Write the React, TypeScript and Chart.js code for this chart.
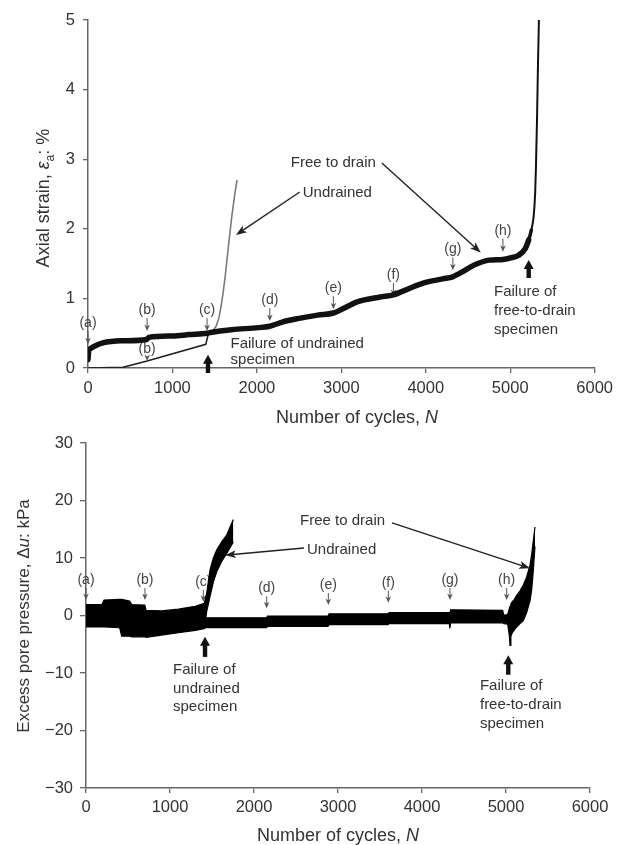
import React, { useEffect, useRef } from 'react';
import { Chart, registerables } from 'chart.js';

Chart.register(...registerables);

const FONT_FAMILY = '"Liberation Sans", Arial, Helvetica, sans-serif';
const TEXT = '#333333';
const AXIS = '#666666';
const MARK = '#555555';

// ---------- shared ----------
const cycleTicks = [0, 1000, 2000, 3000, 4000, 5000, 6000];
const stageLabels = ['(a)', '(b)', '(c)', '(d)', '(e)', '(f)', '(g)', '(h)'];

// ---------- axial strain (%) ----------
const strainTicks = [0, 1, 2, 3, 4, 5];

const drainedStrainCycles = [
  0, 8, 30, 70, 176, 400, 695, 720, 1000, 1200,
  1410, 1450, 1700, 2016, 2152, 2300, 2484, 2719, 2906, 3000,
  3188, 3461, 3617, 3700, 3969, 4200, 4320, 4400, 4594, 4750,
  4914, 5000, 5101, 5180, 5219, 5250, 5277, 5295, 5305, 5318,
  5328, 5340,
];
const drainedStrain = [
  0.12, 0.24, 0.28, 0.31, 0.36, 0.39, 0.41, 0.44, 0.46, 0.48,
  0.50, 0.51, 0.55, 0.58, 0.60, 0.66, 0.71, 0.76, 0.79, 0.84,
  0.95, 1.02, 1.05, 1.09, 1.22, 1.28, 1.31, 1.36, 1.49, 1.55,
  1.56, 1.58, 1.62, 1.72, 1.84, 1.98, 2.17, 2.5, 2.89, 3.6,
  4.3, 5.0,
];

const undrainedStrainCycles = [0, 414, 700, 1395, 1425, 1460, 1490, 1520, 1550, 1575, 1600, 1625, 1650, 1675, 1703, 1735, 1765];
const undrainedStrain = [0, 0.01, 0.10, 0.34, 0.49, 0.53, 0.55, 0.61, 0.72, 0.88, 1.08, 1.32, 1.6, 1.88, 2.18, 2.47, 2.70];

const strainStageCycles = [0, 700, 1410, 2153, 2906, 3617, 4321, 4914];
const strainStageTips = [0.34, 0.53, 0.53, 0.675, 0.843, 1.034, 1.404, 1.671];
const undrainedStageCycle = 700;
const undrainedStageTip = 0.1;

// ---------- excess pore pressure (kPa), cyclic envelopes ----------
const poreTicks = [-30, -20, -10, 0, 10, 20, 30];

const undrainedPoreCycles = [0, 190, 215, 400, 425, 520, 545, 700, 715, 900, 1100, 1300, 1405, 1412, 1437, 1476, 1516, 1556, 1615, 1675, 1754];
const undrainedPoreUpper = [1.9, 1.9, 2.7, 2.8, 2.8, 2.5, 1.9, 1.8, 0.9, 0.8, 1.1, 1.6, 2.1, 2.4, 3.9, 7.9, 10.0, 11.4, 12.8, 14.0, 16.7];
const undrainedPoreLower = [-2.0, -2.0, -2.0, -2.1, -3.6, -3.6, -3.7, -3.7, -3.8, -3.4, -3.0, -2.6, -2.3, -2.0, 0.7, 3.3, 5.8, 7.6, 9.4, 10.8, 12.8];

const drainedPoreCycles = [
  1412, 2150, 2160, 2880, 2895, 3595, 3610, 4325, 4332, 4340,
  4360, 4960, 4975, 5020, 5040, 5048, 5058, 5075, 5100, 5127,
  5167, 5206, 5246, 5286, 5306, 5325, 5345,
];
const drainedPoreUpper = [
  -0.4, -0.4, -0.1, -0.1, 0.3, 0.3, 0.5, 0.5, 0.2, 1.0,
  1.0, 0.9, 0.0, 0.2, 1.2, 1.6, 2.0, 2.4, 2.8, 3.5,
  4.3, 5.3, 6.7, 8.8, 10.7, 13.0, 15.4,
];
const drainedPoreLower = [
  -2.1, -2.1, -1.9, -1.9, -1.6, -1.6, -1.4, -1.4, -2.2, -1.3,
  -1.3, -1.3, -1.4, -1.5, -3.5, -5.2, -3.6, -3.0, -2.5, -2.0,
  -1.4, -0.9, 0.5, 2.6, 4.5, 7.8, 12.0,
];

const poreStageCycles = [0, 702, 1397, 2151, 2885, 3599, 4333, 5008];
const poreStageTips = [2.7, 2.7, 2.4, 1.25, 1.83, 2.23, 2.7, 2.7];

// ---------- helpers ----------
type Part = { t: string; italic?: boolean; sub?: boolean };
type Note = { x: number; y: number; lines: string[]; lineHeight: number };
type Pointer = { from: [number, number]; to: [number, number] };
type Stage = { x: number; tip: number; label: string; gap: number };
type Failure = { x: number; tip: number; base: number };
type Title = { parts: Part[]; x: number; y: number; size: number; rotate?: boolean };

interface NoteSpec {
  stages: Stage[];
  notes: Note[];
  pointers: Pointer[];
  failures: Failure[];
  titles: Title[];
}

const fontOf = (size: number, italic = false) => `${italic ? 'italic ' : ''}${size}px ${FONT_FAMILY}`;

function drawRich(ctx: CanvasRenderingContext2D, parts: Part[], x: number, y: number, size: number) {
  let w = 0;
  const widths = parts.map((p) => {
    ctx.font = fontOf(p.sub ? size * 0.68 : size, p.italic);
    const m = ctx.measureText(p.t).width;
    w += m;
    return m;
  });
  let cx = x - w / 2;
  const base = y + size * 0.36;
  ctx.textAlign = 'left';
  ctx.textBaseline = 'alphabetic';
  parts.forEach((p, i) => {
    ctx.font = fontOf(p.sub ? size * 0.68 : size, p.italic);
    ctx.fillText(p.t, cx, base + (p.sub ? size * 0.24 : 0));
    cx += widths[i];
  });
}

function notesPlugin(spec: NoteSpec) {
  const pos = (chart: any, x: number, y: number): [number, number] => [
    chart.scales.x.getPixelForValue(x),
    chart.scales.y.getPixelForValue(y),
  ];
  return {
    id: 'notes',
    beforeDatasetsDraw(chart: any) {
      const ctx: CanvasRenderingContext2D = chart.ctx;
      ctx.save();
      for (const s of spec.stages) {
        const [x, yTip] = pos(chart, s.x, s.tip);
        const yLabel = yTip - s.gap;
        ctx.fillStyle = '#444';
        ctx.font = fontOf(14);
        ctx.textAlign = 'center';
        ctx.textBaseline = 'middle';
        ctx.fillText(s.label, x, yLabel);
        const top = yLabel + 8;
        ctx.strokeStyle = MARK;
        ctx.lineWidth = 1;
        if (yTip - 5 > top) {
          ctx.beginPath();
          ctx.moveTo(x, top);
          ctx.lineTo(x, yTip - 4);
          ctx.stroke();
        }
        ctx.fillStyle = MARK;
        ctx.beginPath();
        ctx.moveTo(x - 2.8, yTip - 6.5);
        ctx.lineTo(x, yTip - 4.5);
        ctx.lineTo(x + 2.8, yTip - 6.5);
        ctx.lineTo(x, yTip);
        ctx.closePath();
        ctx.fill();
      }
      ctx.restore();
    },
    afterDatasetsDraw(chart: any) {
      const ctx: CanvasRenderingContext2D = chart.ctx;
      ctx.save();
      // failure arrows
      for (const f of spec.failures) {
        const [x, yTip] = pos(chart, f.x, f.tip);
        const [, yBase] = pos(chart, f.x, f.base);
        ctx.fillStyle = '#111';
        ctx.fillRect(x - 2.2, yTip + 7, 4.4, yBase - yTip - 7);
        ctx.beginPath();
        ctx.moveTo(x, yTip);
        ctx.lineTo(x + 5, yTip + 9);
        ctx.lineTo(x - 5, yTip + 9);
        ctx.closePath();
        ctx.fill();
      }
      // pointers
      for (const p of spec.pointers) {
        const [x0, y0] = pos(chart, p.from[0], p.from[1]);
        const [x1, y1] = pos(chart, p.to[0], p.to[1]);
        const a = Math.atan2(y1 - y0, x1 - x0);
        const L = 11;
        const W = 4;
        ctx.strokeStyle = '#222';
        ctx.lineWidth = 1.4;
        ctx.beginPath();
        ctx.moveTo(x0, y0);
        ctx.lineTo(x1 - Math.cos(a) * L * 0.7, y1 - Math.sin(a) * L * 0.7);
        ctx.stroke();
        ctx.fillStyle = '#222';
        ctx.beginPath();
        ctx.moveTo(x1, y1);
        ctx.lineTo(x1 - Math.cos(a) * L - Math.sin(a) * W, y1 - Math.sin(a) * L + Math.cos(a) * W);
        ctx.lineTo(x1 - Math.cos(a) * L * 0.75, y1 - Math.sin(a) * L * 0.75);
        ctx.lineTo(x1 - Math.cos(a) * L + Math.sin(a) * W, y1 - Math.sin(a) * L - Math.cos(a) * W);
        ctx.closePath();
        ctx.fill();
      }
      // text notes
      ctx.fillStyle = TEXT;
      ctx.font = fontOf(15);
      ctx.textAlign = 'left';
      ctx.textBaseline = 'alphabetic';
      for (const n of spec.notes) {
        const [x, y] = pos(chart, n.x, n.y);
        n.lines.forEach((line, i) => ctx.fillText(line, x, y + 15 * 0.36 + i * n.lineHeight));
      }
      ctx.restore();
    },
    afterDraw(chart: any) {
      const ctx: CanvasRenderingContext2D = chart.ctx;
      ctx.save();
      ctx.fillStyle = TEXT;
      for (const t of spec.titles) {
        ctx.save();
        ctx.translate(t.x, t.y);
        if (t.rotate) ctx.rotate(-Math.PI / 2);
        drawRich(ctx, t.parts, 0, 0, t.size);
        ctx.restore();
      }
      ctx.restore();
    },
  };
}

const plainFmt = (v: number | string) => {
  const n = Number(v);
  return n < 0 ? '\u2212' + Math.abs(n) : String(n);
};

function scalesFor(o: {
  yMin: number; yMax: number; yTicks: number[]; yWidth: number; xHeight: number;
  xPad: number; yPad: number; yTickLen: number;
}) {
  const tickFont = { family: FONT_FAMILY, size: 16.5 };
  return {
    x: {
      type: 'linear',
      min: 0,
      max: 6000,
      afterBuildTicks: (s: any) => { s.ticks = cycleTicks.map((value) => ({ value })); },
      afterFit: (s: any) => { s.height = o.xHeight; },
      ticks: { color: TEXT, font: tickFont, padding: o.xPad, maxRotation: 0, autoSkip: false, callback: plainFmt },
      grid: { drawOnChartArea: false, drawTicks: true, tickLength: 5, color: AXIS, lineWidth: 1.3 },
      border: { display: true, color: AXIS, width: 1.5 },
    },
    y: {
      type: 'linear',
      min: o.yMin,
      max: o.yMax,
      afterBuildTicks: (s: any) => { s.ticks = o.yTicks.map((value) => ({ value })); },
      afterFit: (s: any) => { s.width = o.yWidth; },
      ticks: { color: TEXT, font: tickFont, padding: o.yPad, autoSkip: false, callback: plainFmt },
      grid: { drawOnChartArea: false, drawTicks: true, tickLength: o.yTickLen, color: AXIS, lineWidth: 1.3 },
      border: { display: true, color: AXIS, width: 1.5 },
    },
  };
}

const pts = (xs: number[], ys: number[]) => xs.map((x, i) => ({ x, y: ys[i] }));

function strainConfig(): any {
  const spec: NoteSpec = {
    stages: [
      ...strainStageCycles.map((x, i) => ({ x, tip: strainStageTips[i], label: stageLabels[i], gap: 21 })),
      { x: undrainedStageCycle, tip: undrainedStageTip, label: '(b)', gap: 12 },
    ],
    notes: [
      { x: 2402, y: 2.964, lines: ['Free to drain'], lineHeight: 18 },
      { x: 2543, y: 2.533, lines: ['Undrained'], lineHeight: 18 },
      { x: 1688, y: 0.3635, lines: ['Failure of undrained', 'specimen'], lineHeight: 16 },
      { x: 4808, y: 1.106, lines: ['Failure of', 'free-to-drain', 'specimen'], lineHeight: 18.6 },
    ],
    pointers: [
      { from: [3480, 2.945], to: [4652, 1.657] },
      { from: [2508, 2.529], to: [1752, 1.911] },
    ],
    failures: [
      { x: 1421, tip: 0.19, base: -0.072 },
      { x: 5219, tip: 1.552, base: 1.293 },
    ],
    titles: [
      { parts: [{ t: 'Number of cycles, ' }, { t: 'N', italic: true }], x: 357, y: 417, size: 18 },
      { parts: [{ t: 'Axial strain, ' }, { t: '\u03b5', italic: true }, { t: 'a', sub: true }, { t: ': %' }], x: 43, y: 198, size: 18, rotate: true },
    ],
  };
  return {
    type: 'line',
    data: {
      datasets: [
        {
          data: pts(drainedStrainCycles, drainedStrain),
          borderColor: '#111',
          borderWidth: 5.5,
          pointRadius: 0,
          cubicInterpolationMode: 'monotone',
          borderCapStyle: 'round',
          borderJoinStyle: 'round',
          fill: false,
          segment: { borderWidth: (c: any) => (c.p0.parsed.x >= 5250 ? 2 : c.p0.parsed.x >= 5200 ? 3.5 : 5.5) },
        },
        {
          data: pts(undrainedStrainCycles, undrainedStrain),
          borderColor: '#222',
          borderWidth: 1.6,
          pointRadius: 0,
          tension: 0,
          fill: false,
          segment: { borderColor: (c: any) => (c.p0.parsed.x >= 1425 ? '#7a7a7a' : '#222') },
        },
      ],
    },
    options: {
      animation: false,
      responsive: false,
      events: [],
      layout: { padding: { left: 0, right: 19, top: 20, bottom: 0 } },
      plugins: { legend: { display: false }, tooltip: { enabled: false } },
      scales: scalesFor({ yMin: 0, yMax: 5, yTicks: strainTicks, yWidth: 88, xHeight: 62, xPad: 6, yPad: 8, yTickLen: 5 }),
    },
    plugins: [notesPlugin(spec)],
  };
}

function poreConfig(): any {
  const band = (xs: number[], up: number[], lo: number[]) => [
    {
      data: pts(xs, up), borderColor: '#000', borderWidth: 1.2, pointRadius: 0,
      backgroundColor: '#000', fill: '+1', tension: 0,
    },
    {
      data: pts(xs, lo), borderColor: '#000', borderWidth: 1.2, pointRadius: 0,
      fill: false, tension: 0,
    },
  ];
  const spec: NoteSpec = {
    stages: poreStageCycles.map((x, i) => ({ x, tip: poreStageTips[i], label: stageLabels[i], gap: 20 })),
    notes: [
      { x: 2548, y: 16.6, lines: ['Free to drain'], lineHeight: 18 },
      { x: 2631, y: 11.7, lines: ['Undrained'], lineHeight: 18 },
      { x: 1036, y: -9.2, lines: ['Failure of', 'undrained', 'specimen'], lineHeight: 18.8 },
      { x: 4690, y: -12.1, lines: ['Failure of', 'free-to-drain', 'specimen'], lineHeight: 18.8 },
    ],
    pointers: [
      { from: [3643, 16.1], to: [5286, 8.2] },
      { from: [2595, 11.74], to: [1655, 10.5] },
    ],
    failures: [
      { x: 1417, tip: -3.7, base: -7.2 },
      { x: 5027, tip: -6.9, base: -10.3 },
    ],
    titles: [
      { parts: [{ t: 'Number of cycles, ' }, { t: 'N', italic: true }], x: 338, y: 415, size: 18 },
      { parts: [{ t: 'Excess pore pressure, \u0394' }, { t: 'u', italic: true }, { t: ': kPa' }], x: 23, y: 196, size: 17, rotate: true },
    ],
  };
  return {
    type: 'line',
    data: {
      datasets: [
        ...band(undrainedPoreCycles, undrainedPoreUpper, undrainedPoreLower),
        ...band(drainedPoreCycles, drainedPoreUpper, drainedPoreLower),
      ],
    },
    options: {
      animation: false,
      responsive: false,
      events: [],
      layout: { padding: { left: 0, right: 29, top: 23, bottom: 0 } },
      plugins: { legend: { display: false }, tooltip: { enabled: false } },
      scales: scalesFor({ yMin: -30, yMax: 30, yTicks: poreTicks, yWidth: 86, xHeight: 57, xPad: 5, yPad: 7, yTickLen: 6 }),
    },
    plugins: [notesPlugin(spec)],
  };
}

function ChartCanvas({ top, width, height, build }: { top: number; width: number; height: number; build: () => any }) {
  const ref = useRef<HTMLCanvasElement>(null);
  useEffect(() => {
    const chart = new Chart(ref.current as HTMLCanvasElement, build());
    return () => chart.destroy();
  }, [build]);
  return (
    <canvas
      ref={ref}
      width={width}
      height={height}
      style={{ position: 'absolute', left: 0, top, display: 'block', width, height }}
    />
  );
}

export default function App() {
  return (
    <div style={{ position: 'absolute', left: 0, top: 0, width: 619, height: 845, background: '#fff' }}>
      <ChartCanvas top={0} width={619} height={430} build={strainConfig} />
      <ChartCanvas top={420} width={619} height={425} build={poreConfig} />
    </div>
  );
}
